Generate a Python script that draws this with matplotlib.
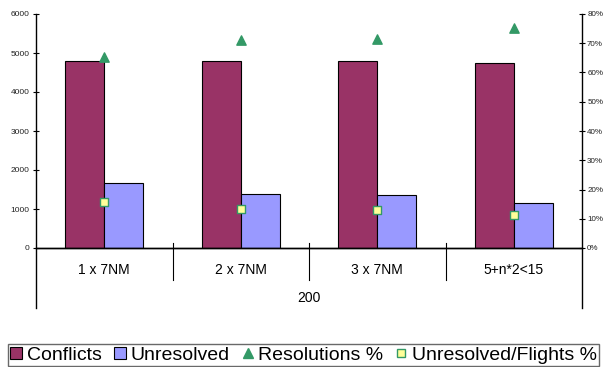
import matplotlib
matplotlib.use("Agg")
import matplotlib.pyplot as plt
from matplotlib.lines import Line2D
from matplotlib.patches import Patch
from matplotlib.ticker import FuncFormatter
import matplotlib.transforms as mtransforms

plt.rcParams['font.family'] = ['Liberation Sans', 'DejaVu Sans']

categories = ["1 x 7NM", "2 x 7NM", "3 x 7NM", "5+n*2<15"]
group_label = "200"
conflicts = [4800, 4790, 4800, 4740]
unresolved = [1665, 1375, 1360, 1160]
resolutions_pct = [65.3, 71.1, 71.5, 75.2]
unresolved_flights_pct = [15.7, 13.2, 13.1, 11.2]

c_conf = "#993366"
c_unres = "#9999FF"
c_green = "#339966"
c_yellow = "#FFFF99"

W, H = 604, 367
fig = plt.figure(figsize=(W / 100, H / 100), dpi=100)
x0, x1, y0, y1 = 36, 582, 248, 14
ax = fig.add_axes([x0 / W, 1 - y0 / H, (x1 - x0) / W, (y0 - y1) / H])
ax2 = ax.twinx()

n = len(categories)
xs = list(range(n))
bw = 0.286
ax.bar([x - bw / 2 for x in xs], conflicts, width=bw, color=c_conf,
       edgecolor="black", linewidth=0.8, zorder=2)
ax.bar([x + bw / 2 for x in xs], unresolved, width=bw, color=c_unres,
       edgecolor="black", linewidth=0.8, zorder=2)
ax.set_xlim(-0.5, n - 0.5)
ax.set_ylim(0, 6000)
ax.set_yticks(range(0, 6001, 1000))

ax2.scatter(xs, resolutions_pct, marker="^", s=45, color=c_green, zorder=3,
            clip_on=False)
ax2.scatter(xs, unresolved_flights_pct, marker="s", s=40, color=c_yellow,
            edgecolors=c_green, linewidths=1.0, zorder=3, clip_on=False)
ax2.set_ylim(0, 80)
ax2.set_yticks(range(0, 81, 10))
ax2.yaxis.set_major_formatter(FuncFormatter(lambda v, p: f"{int(v)}%"))

for a in (ax, ax2):
    a.spines['top'].set_visible(False)
    a.spines['left'].set_visible(False)
    a.spines['right'].set_visible(False)
    a.spines['bottom'].set_linewidth(1.0)
    a.tick_params(axis='y', direction='inout', length=5, width=0.8,
                  labelsize=6, pad=2, labelcolor="#222222")
ax2.tick_params(axis='y', labelsize=5.8, pad=1.2)
ax.set_xticks([])
ax2.set_xticks([])

ph = y0 - y1
ext = -(308 - y0) / ph
# vertical axis lines extended below the plot
for xa in (0, 1):
    ax.add_line(Line2D([xa, xa], [ext, 1], transform=ax.transAxes,
                       color="black", lw=1.0, clip_on=False))

trans = mtransforms.blended_transform_factory(ax.transData, ax.transAxes)
for b in range(1, n):
    ax.add_line(Line2D([b - 0.5, b - 0.5], [5 / ph, -(280 - y0) / ph],
                       transform=trans, color="black", lw=0.8, clip_on=False))
for i, lab in enumerate(categories):
    ax.text(i, -(270 - y0) / ph, lab, transform=trans, ha="center",
            va="center", fontsize=10)
ax.text(0.5, -(298 - y0) / ph, group_label, transform=ax.transAxes,
        ha="center", va="center", fontsize=10)

handles = [
    Patch(facecolor=c_conf, edgecolor="black", linewidth=0.8),
    Patch(facecolor=c_unres, edgecolor="black", linewidth=0.8),
    Line2D([], [], marker="^", color=c_green, linestyle="none", markersize=7),
    Line2D([], [], marker="s", markerfacecolor=c_yellow, markeredgecolor=c_green,
           linestyle="none", markersize=5.5),
]
labels = ["Conflicts", "Unresolved", "Resolutions %", "Unresolved/Flights %"]
leg = fig.legend(handles, labels, loc="lower left",
                 bbox_to_anchor=(8 / W, 1 / H), ncol=4, fontsize=14,
                 frameon=True, fancybox=False, borderpad=0.12,
                 handlelength=0.62, handleheight=0.62, handletextpad=0.25,
                 columnspacing=0.6, borderaxespad=0.0)
leg.get_frame().set_edgecolor("#444444")
leg.get_frame().set_linewidth(1.0)

fig.savefig("out.png", dpi=100)
